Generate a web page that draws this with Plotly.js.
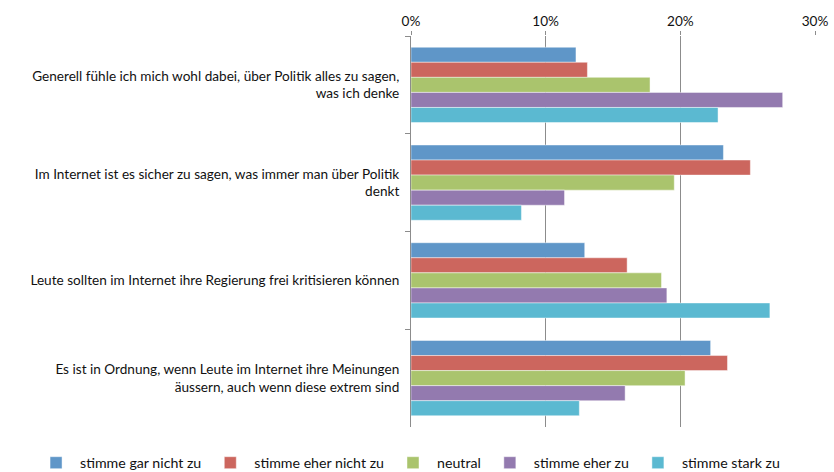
<!DOCTYPE html>
<html>
<head>
<meta charset="utf-8">
<script src="https://cdn.plot.ly/plotly-3.0.1.min.js"></script>
<style>html,body{margin:0;padding:0;background:#fff;}#chart{width:834px;height:472px;}</style>
</head>
<body>
<div id="chart"></div>
<script>
const categories = [
  "Generell fühle ich mich wohl dabei, über Politik alles zu sagen,<br>was ich denke",
  "Im Internet ist es sicher zu sagen, was immer man über Politik<br>denkt",
  "Leute sollten im Internet ihre Regierung frei kritisieren können",
  "Es ist in Ordnung, wenn Leute im Internet ihre Meinungen<br>äussern, auch wenn diese extrem sind"
];
const seriesNames = ["stimme gar nicht zu", "stimme eher nicht zu", "neutral", "stimme eher zu", "stimme stark zu"];
const garNicht   = [0.1225, 0.232, 0.129, 0.2225];
const eherNicht  = [0.131, 0.252, 0.1605, 0.235];
const neutral    = [0.1775, 0.1955, 0.186, 0.2035];
const eherZu     = [0.276, 0.114, 0.190, 0.159];
const starkZu    = [0.228, 0.082, 0.2665, 0.125];
const tickValues = [0, 0.1, 0.2, 0.3];
const tickLabels = ["0%", "10%", "20%", "30%"];

const seriesValues = [garNicht, eherNicht, neutral, eherZu, starkZu];
const colors = ["#5F96C8", "#CC665E", "#AAC46D", "#937AAF", "#5BB9D1"];

const traces = seriesValues.map((vals, i) => ({
  type: "bar",
  orientation: "h",
  name: seriesNames[i],
  x: vals,
  y: categories,
  marker: { color: colors[i], line: { color: "rgba(255,255,255,0.45)", width: 1 } },
  hoverinfo: "x+name"
}));

const FS = 13.6;
const layout = {
  width: 834,
  height: 472,
  margin: { l: 411, r: 19, t: 36, b: 45, autoexpand: false },
  paper_bgcolor: "#ffffff",
  plot_bgcolor: "#ffffff",
  font: { family: "Lato, 'Open Sans', sans-serif", size: FS, color: "#111" },
  barmode: "group",
  bargap: 0.23,
  bargroupgap: 0,
  showlegend: true,
  legend: {
    orientation: "h",
    x: -0.938,
    xanchor: "left",
    y: -0.092,
    yanchor: "middle",
    itemwidth: 38,
    font: { size: 14.2, color: "#111" },
    traceorder: "normal",
    bgcolor: "rgba(0,0,0,0)"
  },
  xaxis: {
    side: "top",
    range: [0, 0.30],
    tickvals: tickValues,
    ticktext: tickLabels,
    showgrid: true,
    gridcolor: "#8C8C8C",
    gridwidth: 1,
    zeroline: false,
    showline: false,
    ticks: "outside",
    ticklen: 4,
    tickcolor: "#8C8C8C",
    tickfont: { size: FS, color: "#111" },
    fixedrange: true
  },
  yaxis: {
    type: "category",
    autorange: "reversed",
    showgrid: false,
    zeroline: false,
    showline: true,
    linecolor: "#8C8C8C",
    linewidth: 1,
    ticks: "outside",
    tickson: "boundaries",
    ticklen: 5,
    tickcolor: "#8C8C8C",
    ticklabelstandoff: 8,
    tickfont: { size: FS, color: "#111" },
    fixedrange: true
  }
};

Plotly.newPlot("chart", traces, layout, { displayModeBar: false });
</script>
</body>
</html>
